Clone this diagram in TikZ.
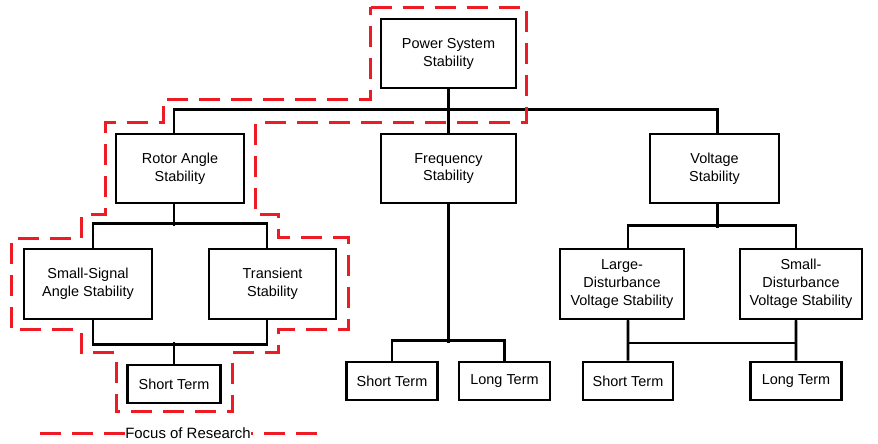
\documentclass[tikz,border=0pt]{standalone}
\usepackage{fontspec}
\setmainfont{Liberation Sans}
\usepackage{tikz}
\usetikzlibrary{positioning}
\definecolor{focusred}{RGB}{237, 28, 36}

\begin{document}
\begin{tikzpicture}[x=1bp, y=-1bp,
    box/.style={draw, line width=2.7bp, align=center, inner sep=2bp,
      minimum height=69bp, font=\fontsize{14.5}{18}\selectfont},
    termbox/.style={box, minimum height=38bp},
    wire/.style={line width=2.7bp},
    focus/.style={focusred, line width=3bp, dash pattern=on 21bp off 11bp}]
  \useasboundingbox (0,0) rectangle (878,444);

  % Top level
  \node[box, minimum width=135bp] (pss) at (448.5,53.5) {Power System\\Stability};
  \node[box, minimum width=128bp] (rotor) at (180,168.5) {Rotor Angle\\Stability};
  \node[box, minimum width=135bp] (freq) at (448.5,168.5) {Frequency\\Stability};
  \node[box, minimum width=129bp] (volt) at (714.5,168.5) {Voltage\\Stability};

  % Rotor angle branch
  \node[box, minimum width=128bp, minimum height=70bp] (ssig) at (88,284) {Small-Signal\\Angle Stability};
  \node[box, minimum width=127bp, minimum height=70bp] (trans) at (272.5,284) {Transient\\Stability};
  \node[termbox, minimum width=93bp] (rshort) at (174,384) {Short Term};

  % Frequency branch
  \node[termbox, minimum width=91bp] (fshort) at (392,381) {Short Term};
  \node[termbox, minimum width=91bp] (flong) at (504.5,381) {Long Term};

  % Voltage branch
  \node[box, minimum width=124bp, minimum height=70bp] (ldist) at (622,284) {Large-\\Disturbance\\Voltage Stability};
  \node[box, minimum width=122bp, minimum height=70bp] (sdist) at (801,284) {Small-\\Disturbance\\Voltage Stability};
  \node[termbox, minimum width=90bp] (vshort) at (628,381) {Short Term};
  \node[termbox, minimum width=91bp] (vlong) at (796,381) {Long Term};

  % Connectors
  \draw[wire] (pss.south) -- (freq.north);
  \draw[wire] ([xshift=-6bp]rotor.north) -- ++(0,-23) -| ([xshift=3bp]volt.north);

  \draw[wire] ([xshift=-6bp]rotor.south) -- ++(0,22);
  \draw[wire] ([xshift=5bp]ssig.north) -- ++(0,-24) -| ([xshift=-5.5bp]trans.north);
  \draw[wire] ([xshift=5bp]ssig.south) -- ++(0,24) -| ([xshift=-5.5bp]trans.south);
  \draw[wire] (rshort.north) -- ++(0,-22);

  \draw[wire] (freq.south) -- ++(0,138.7);
  \draw[wire] (fshort.north) -- ++(0,-20) -| (flong.north);

  \draw[wire] ([xshift=3bp]volt.south) -- ++(0,23.7);
  \draw[wire] ([xshift=6bp]ldist.north) -- ++(0,-22.3) -| ([xshift=-5bp]sdist.north);
  \draw[wire] ([xshift=6bp]ldist.south) -- (vshort.north);
  \draw[wire] ([xshift=-5bp]sdist.south) -- (vlong.north);
  \draw[wire] ([xshift=6bp]ldist.south) -- ++(0,22.7) -| ([xshift=-5bp]sdist.south);

  % Focus of research outline
  \draw[focus] (370.7,7.3) -- (526.7,7.3) -- (526.7,122.7) -- (255,122.7)
    -- (255,215) -- (278,215) -- (278,237.3) -- (348,237.3) -- (348,330)
    -- (278,330) -- (278,353) -- (232.3,353) -- (232.3,411) -- (116.7,411)
    -- (116.7,353) -- (81.7,353) -- (81.7,330) -- (11.7,330) -- (11.7,238.3)
    -- (81.7,238.3) -- (81.7,215) -- (105,215) -- (105,123) -- (163,123)
    -- (163,99.3) -- (370.7,99.3) -- cycle;

  % Legend
  \coordinate (legl) at (40,433);
  \coordinate (legr) at (328,433);
  \draw[focus] (legl) -- (legr);
  \node[fill=white, inner sep=0.5bp, font=\fontsize{15}{18}\selectfont] (legend) at (188,433) {Focus of Research};
\end{tikzpicture}
\end{document}
